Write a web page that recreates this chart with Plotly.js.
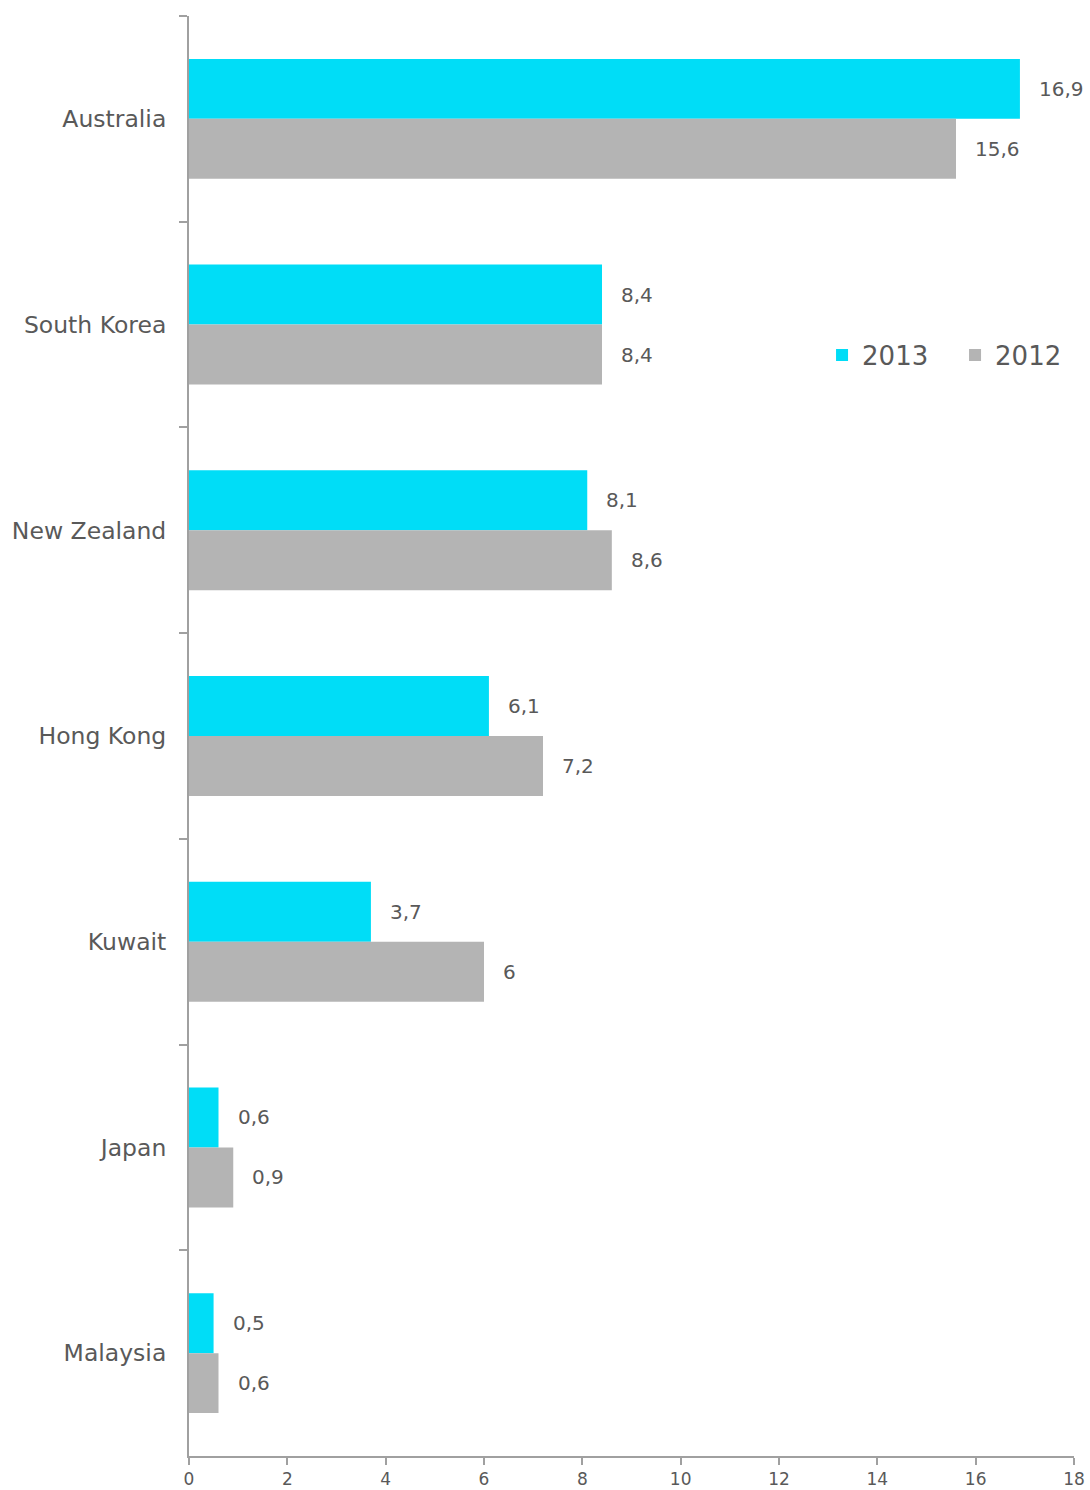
<!DOCTYPE html>
<html>
<head>
<meta charset="utf-8">
<script src="https://cdn.plot.ly/plotly-3.0.1.min.js"></script>
<style>html,body{margin:0;padding:0;background:#fff;}#chart{width:1090px;height:1490px;}</style>
</head>
<body>
<div id="chart"></div>
<script>
const categories = ["Australia", "South Korea", "New Zealand", "Hong Kong", "Kuwait", "Japan", "Malaysia"];
const values2013 = [16.9, 8.4, 8.1, 6.1, 3.7, 0.6, 0.5];
const values2012 = [15.6, 8.4, 8.6, 7.2, 6, 0.9, 0.6];
const seriesNames = ["2013", "2012"];
const xTicks = [0, 2, 4, 6, 8, 10, 12, 14, 16, 18];

const fmt = v => String(v).replace('.', ',');
const textColor = '#595959';
const axisColor = '#a0a0a0';

const traces = [
  {type: 'bar', orientation: 'h', name: seriesNames[0], y: categories, x: values2013,
   marker: {color: '#00DDF7'}, hoverinfo: 'x+y'},
  {type: 'bar', orientation: 'h', name: seriesNames[1], y: categories, x: values2012,
   marker: {color: '#B4B4B4'}, hoverinfo: 'x+y'}
];

const annotations = [];
[[values2013, 30], [values2012, -30]].forEach(([vals, ys]) => {
  vals.forEach((v, i) => {
    annotations.push({x: v, y: categories[i], xref: 'x', yref: 'y', text: fmt(v),
      showarrow: false, xanchor: 'left', yanchor: 'middle', xshift: 17, yshift: ys,
      font: {family: 'DejaVu Sans', size: 20, color: textColor}});
  });
});

const layout = {
  width: 1090, height: 1490,
  margin: {l: 189, r: 0, t: 16, b: 34},
  paper_bgcolor: '#fff', plot_bgcolor: '#fff',
  separators: ', ',
  barmode: 'group', bargap: 0.417, bargroupgap: 0,
  font: {family: 'DejaVu Sans', color: textColor},
  showlegend: true,
  legend: {orientation: 'h', xref: 'paper', yref: 'paper', x: 0.7026, xanchor: 'left', y: 0.7646, yanchor: 'middle',
    font: {family: 'DejaVu Sans', size: 26, color: textColor}, traceorder: 'normal',
    entrywidth: 88, entrywidthmode: 'pixels', bgcolor: 'rgba(0,0,0,0)'},
  xaxis: {domain: [0, 885 / 901], range: [0, 18], tickvals: xTicks, ticktext: xTicks.map(String), showgrid: false, zeroline: false,
    showline: true, linecolor: axisColor, linewidth: 2, ticks: 'outside', ticklen: 7, tickwidth: 2,
    tickcolor: axisColor, tickfont: {family: 'DejaVu Sans', size: 17, color: textColor}, fixedrange: true},
  yaxis: {type: 'category', autorange: 'reversed', showgrid: false, zeroline: false,
    showline: true, linecolor: axisColor, linewidth: 2, ticks: 'outside', ticklen: 8, tickwidth: 2,
    tickcolor: axisColor, tickson: 'boundaries', ticklabelstandoff: 16,
    tickfont: {family: 'DejaVu Sans', size: 23.5, color: textColor}, fixedrange: true},
  annotations: annotations
};

Plotly.newPlot('chart', traces, layout, {displayModeBar: false});
</script>
</body>
</html>
